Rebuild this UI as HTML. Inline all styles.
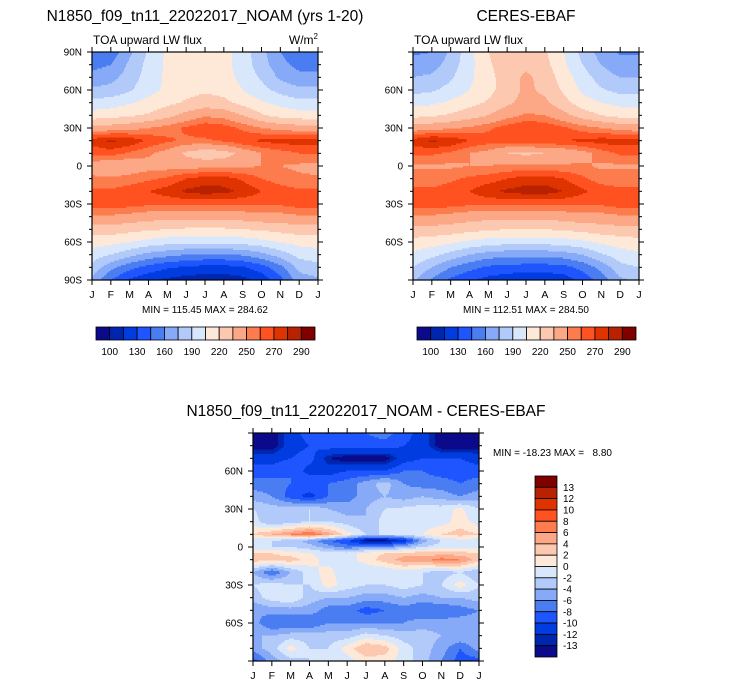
<!DOCTYPE html>
<html><head><meta charset="utf-8">
<style>
html,body{margin:0;padding:0;background:#fff;}
svg{display:block;font-family:"Liberation Sans",Arial,sans-serif;}
</style></head>
<body>
<svg id="fig" width="733" height="687" viewBox="0 0 733 687" xmlns="http://www.w3.org/2000/svg">
<text x="205" y="21" font-size="15.5" text-anchor="middle">N1850_f09_tn11_22022017_NOAM (yrs 1-20)</text>
<text x="526" y="21" font-size="15.5" text-anchor="middle">CERES-EBAF</text>
<text x="93" y="44" font-size="12">TOA upward LW flux</text>
<text x="318" y="44" font-size="12" text-anchor="end">W/m<tspan font-size="8" dy="-5">2</tspan></text>
<text x="414" y="44" font-size="12">TOA upward LW flux</text>
<text x="205" y="313" font-size="10" text-anchor="middle">MIN = 115.45 MAX = 284.62</text>
<text x="526" y="313" font-size="10" text-anchor="middle">MIN = 112.51 MAX = 284.50</text>
<text x="366" y="416" font-size="15.5" text-anchor="middle">N1850_f09_tn11_22022017_NOAM - CERES-EBAF</text>
<text x="493" y="456" font-size="10" xml:space="preserve" style="white-space:pre">MIN = -18.23 MAX =   8.80</text>
</svg>
<script>
// ---- data ----
const months = ["J","F","M","A","M","J","J","A","S","O","N","D","J"];
const latsTop = [90,80,70,60,50,40,30,20,10,0,-10,-20,-30,-40,-50,-60,-70,-80,-90];
const modelLW = [
[148,150,172,192,208,212,214,210,198,180,160,148,148],
[155,160,178,195,208,212,215,210,198,182,165,155,155],
[165,170,182,197,208,214,218,212,200,188,172,165,165],
[178,180,188,200,208,215,218,215,205,195,185,178,178],
[195,198,203,210,216,222,226,224,215,207,200,195,195],
[212,214,218,222,230,240,248,245,235,222,215,212,212],
[240,242,245,250,255,262,268,265,258,250,245,242,240],
[275,282,278,268,262,258,258,262,268,272,275,275,275],
[262,265,258,252,245,232,225,228,240,250,255,260,262],
[245,235,240,245,245,245,245,245,248,250,250,248,245],
[252,252,255,258,262,270,275,275,268,260,255,252,252],
[262,262,265,270,275,282,285,283,278,270,265,262,262],
[265,265,265,262,262,262,262,262,262,262,262,265,265],
[248,248,245,242,240,240,240,240,242,245,245,248,248],
[228,228,225,222,220,218,218,218,220,222,225,228,228],
[212,210,205,200,196,194,194,194,196,200,206,210,212],
[198,190,180,170,165,160,158,158,162,170,182,195,198],
[185,165,150,140,132,128,125,125,128,138,155,180,185],
[172,145,128,118,112,108,106,106,110,120,140,168,172]];
const obsLW = [
[158,160,178,200,220,228,230,222,205,185,168,158,158],
[165,168,182,200,218,228,232,225,208,190,175,165,165],
[175,178,188,202,215,228,238,230,212,198,182,175,175],
[185,188,195,205,215,228,238,232,218,202,192,185,185],
[200,202,208,215,222,232,240,238,225,212,205,200,200],
[215,218,222,228,235,245,252,250,240,228,220,215,215],
[242,245,248,252,258,265,270,268,262,255,250,245,242],
[275,282,278,270,265,265,268,268,270,272,275,275,275],
[262,262,258,250,245,235,232,235,238,245,255,262,262],
[248,248,248,250,250,252,252,252,252,252,248,248,248],
[255,255,258,262,265,270,275,275,270,262,255,255,255],
[262,262,265,270,278,282,285,285,280,272,266,262,262],
[265,265,265,262,262,262,262,262,262,262,262,265,265],
[248,248,245,242,240,240,240,240,242,245,245,248,248],
[230,230,228,225,222,220,220,220,222,225,228,230,230],
[215,212,208,202,198,196,196,196,198,202,208,212,215],
[202,195,185,175,168,165,165,165,168,175,188,198,202],
[190,175,160,150,142,140,138,138,140,150,165,185,190],
[178,158,142,132,125,120,118,118,122,135,152,172,178]];
const latsDiff = [90,80,70,60,50,40,30,20,10,5,0,-5,-10,-20,-30,-40,-50,-60,-70,-80,-90];
const diffLW = [
[-14,-14,-11,-9,-9,-9,-8,-7,-9,-11,-14,-14,-14],
[-14,-14,-11,-10,-9,-9,-9,-9,-10,-11,-14,-14,-14],
[-11,-11,-10,-9,-13,-14,-14,-14,-11,-10,-10,-10,-11],
[-9,-9,-8,-11,-11,-10,-10,-10,-8,-8,-9,-9,-9],
[-7,-7,-8,-8,-8,-7,-5,-3,-6,-7,-7,-8,-7],
[-5,-6,-9,-11,-8,-7,-5,-4,-5,-4,-5,-6,-5],
[-2,-3,-3,-2,-4,-5,-4,-2,-1.5,-1,-1,0.5,-2],
[-1,-4,-3,-2,-2,-3,-4,-1,-1,-1,-1,1,-1],
[2,4,6,8,5,1,-2,-2,-1,0,2,3,2],
[-1,-2,-3,-5,-8,-10,-14,-14,-12,-5,-2,-1,-1],
[-1,-2,-2,-3,-5,-7,-6,-6,-4,-2,-1,-1,-1],
[2,2,1,0,-1,-1,1,2,3,3,3,3,2],
[3,3,3,1,-1,-1,1,3,5,5,7,6,3],
[-4,-8,-4,-1,1,-2,-2,-2,-1,-2,-3,-2,-4],
[-2,-1,-2,-2,1,-1,-2,-2,-1,-2,-2,1,-2],
[-3,-1,0,-3,-4,-4,-5,-5,-4,-5,-4,-4,-3],
[-6,-5,-5,-5,-7,-7,-9,-8,-7,-8,-8,-7,-6],
[-5,-8,-8,-8,-6,-6,-6,-6,-6,-5,-5,-5,-5],
[-4,-4,-3,-3,-3,-3,-1,-2,-3,-3,-4,-4,-4],
[-5,-3,1,-2,-2,1,4,3,-1,-3,-5,-8,-5],
[-9,-5,-3,-2,-2,-1,1,1,-1,-3,-6,-9,-9]];
const lwLevels = [100,115,130,145,160,175,190,205,220,235,250,260,270,280,290];
const lwTickLabels = ["100","130","160","190","220","250","270","290"];
const diffLevels = [-13,-12,-10,-8,-6,-4,-2,0,2,4,6,8,10,12,13];
const diffTickLabels = ["-13","-12","-10","-8","-6","-4","-2","0","2","4","6","8","10","12","13"];
const colors = ["#0a0a8a","#0026b0","#003ce0","#1e55ff","#4a7cf2","#86a9f8","#b2caf9","#d8e7fc","#fee8d8","#fcc9b0","#fca887","#fc7c4e","#ff5220","#e03400","#b82200","#800000"];

// ---- helpers ----
const NS="http://www.w3.org/2000/svg";
const svg=document.getElementById('fig');
function mk(tag,attrs,parent){const e=document.createElementNS(NS,tag);for(const k in attrs)e.setAttribute(k,attrs[k]);(parent||svg).appendChild(e);return e;}
function binOf(v,levels){let b=0;while(b<levels.length&&v>=levels[b])b++;return b;}
function sample(grid,lats,mf,lat){
  let r=0;while(r<lats.length-2&&lat<lats[r+1])r++;
  const t=(lats[r]-lat)/(lats[r]-lats[r+1]);
  const c=Math.min(11,Math.floor(mf));const s=mf-c;
  const a=grid[r][c]*(1-s)+grid[r][c+1]*s;
  const b=grid[r+1][c]*(1-s)+grid[r+1][c+1]*s;
  return a*(1-t)+b*t;
}
function panel(name,x0,y0,w,h,grid,lats,levels,labels90){
  const g=mk('g',{});
  
  
  const xs=m=>x0+m*w/12, ys=lat=>y0+(90-lat)*h/180;
  const step=1.5;
  for(let py=0;py<h;py+=step){
    const lat=90-(py+step/2)*180/h;
    let runStart=0,runBin=-1;
    for(let px=0;px<=w;px++){
      let bin=-1;
      if(px<w){bin=binOf(sample(grid,lats,(px+0.5)*12/w,lat),levels);}
      if(bin!==runBin){
        if(runBin>=0){
          const r=mk('rect',{x:x0+runStart,y:y0+py,width:px-runStart+0.4,height:step+0.4,fill:colors[runBin]},g);
          
          
        }
        runStart=px;runBin=bin;
      }
    }
  }
  const frame=mk('rect',{x:x0,y:y0,width:w,height:h,fill:'none',stroke:'#000','stroke-width':1.2});
  
  
  const ax=mk('g',{stroke:'#000','stroke-width':1});
  
  
  for(let lat=-90;lat<=90;lat+=10){
    const y=ys(lat),maj=lat%30===0,L=maj?5:3;
    mk('line',{x1:x0-L,y1:y,x2:x0,y2:y},ax);
    mk('line',{x1:x0+w,y1:y,x2:x0+w+L,y2:y},ax);
  }
  months.forEach((m,i)=>{const x=xs(i);
    mk('line',{x1:x,y1:y0-5,x2:x,y2:y0},ax);
    mk('line',{x1:x,y1:y0+h,x2:x,y2:y0+h+5},ax);
    const t=mk('text',{x:x,y:y0+h+18,'font-size':10.5,'text-anchor':'middle'});
    t.textContent=m;
    
    
  });
  const latLabels=labels90?[[90,'90N'],[60,'60N'],[30,'30N'],[0,'0'],[-30,'30S'],[-60,'60S'],[-90,'90S']]:[[60,'60N'],[30,'30N'],[0,'0'],[-30,'30S'],[-60,'60S']];
  latLabels.forEach(([lat,s])=>{
    const t=mk('text',{x:x0-10,y:ys(lat)+3.5,'font-size':10,'text-anchor':'end'});
    t.textContent=s;
    
    
  });
}
function hbar(name,x0,y0,w,h){
  const g=mk('g',{});
  
  
  const bw=w/colors.length;
  colors.forEach((c,i)=>{
    const r=mk('rect',{x:x0+i*bw,y:y0,width:bw,height:h,fill:c,stroke:'#000','stroke-width':0.8},g);
    
    
  });
  lwTickLabels.forEach((s,k)=>{
    const t=mk('text',{x:x0+(2*k+1)*bw,y:y0+h+15,'font-size':10,'text-anchor':'middle'},g);
    t.textContent=s;
    
    
  });
}
function vbar(name,x0,y0,w,h){
  const g=mk('g',{});
  
  
  const bh=h/colors.length;
  colors.slice().reverse().forEach((c,i)=>{
    const r=mk('rect',{x:x0,y:y0+i*bh,width:w,height:bh,fill:c,stroke:'#000','stroke-width':0.8},g);
    
    
  });
  diffTickLabels.slice().reverse().forEach((s,k)=>{
    const t=mk('text',{x:x0+w+6,y:y0+(k+1)*bh+3.5,'font-size':10},g);
    t.textContent=s;
    
    
  });
}
panel('model-contour-plot',92,52,226,228,modelLW,latsTop,lwLevels,true);
panel('obs-contour-plot',413,52,226,228,obsLW,latsTop,lwLevels,false);
panel('diff-contour-plot',253,433,226,228,diffLW,latsDiff,diffLevels,false);
hbar('model-colorbar',96,327,219,13);
hbar('obs-colorbar',417,327,219,13);
vbar('diff-colorbar',535,476,22,181);
</script>
</body></html>
